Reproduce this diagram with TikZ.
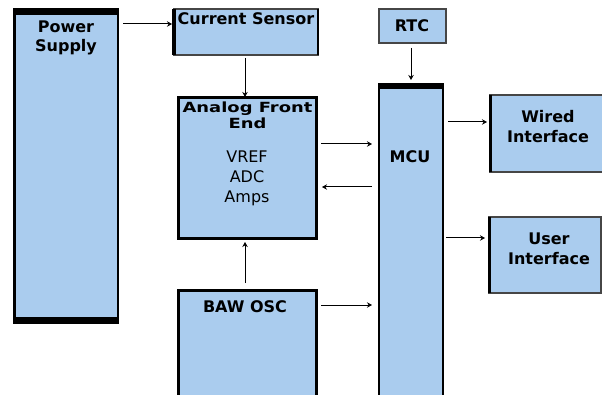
\documentclass[tikz,border=0pt]{standalone}
\usepackage{fontspec}
\setmainfont{DejaVu Sans}
\usetikzlibrary{calc,arrows.meta}
\definecolor{boxfill}{RGB}{170,204,238}
\definecolor{thinedge}{RGB}{70,70,70}
\tikzset{
  blk/.style={rectangle, fill=boxfill, draw=thinedge, line width=1.3pt, inner sep=0pt, outer sep=0pt},
  thickblk/.style={blk, draw=black, line width=3pt},
  lbl/.style={font=\fontsize{16}{20}\selectfont\bfseries, anchor=base, inner sep=0pt},
  body/.style={font=\fontsize{16}{20}\selectfont, anchor=base, inner sep=0pt},
  arr/.style={-{Stealth[length=5pt,width=5.5pt]}, line width=1pt, black},
  side/.style={black, line width=3pt}
}
\begin{document}
\begin{tikzpicture}[x=1pt,y=-1pt]
\useasboundingbox (0,0) rectangle (602,395);
\clip (0,0) rectangle (602,395);
\fill[white] (0,0) rectangle (602,395);

% boxes
\node[blk, draw=black, line width=2pt, minimum width=104pt, minimum height=314pt] (ps) at (66,166) {};
\node[blk, minimum width=144pt, minimum height=46pt] (cs) at (246,32) {};
\node[thickblk, minimum width=138pt, minimum height=141pt] (afe) at (247,168.5) {};
\node[blk, draw=black, line width=2pt, minimum width=64pt, minimum height=316pt] (mcu) at (411,242) {};
\node[blk, minimum width=67pt, minimum height=34pt] (rtc) at (412.5,26) {};
\node[blk, minimum width=113pt, minimum height=77pt] (wi) at (546.5,133.5) {};
\node[blk, minimum width=112pt, minimum height=76pt] (ui) at (545,255) {};
\node[thickblk, minimum width=138pt, minimum height=110pt] (baw) at (247,345) {};

% heavy sides
\fill[black] ($(ps.north west)+(-1,-1)$) rectangle ($(ps.north east)+(1,6)$);
\fill[black] ($(ps.south west)+(-1,-6)$) rectangle ($(ps.south east)+(1,1)$);
\draw[side] (ps.north west) -- (ps.south west);
\draw[side, line width=3.5pt] (cs.north west) -- (cs.south west);
\draw[side, line width=2.5pt] (cs.north east) -- (cs.south east);
\fill[black] ($(mcu.north west)+(-1,-1)$) rectangle ($(mcu.north east)+(1,5)$);
\draw[side] (wi.north west) -- (wi.south west);
\draw[side] (ui.north west) -- (ui.south west);

% labels
\node[lbl] at (66,33) {Power};
\node[lbl] at (66,52) {Supply};
\node[lbl] at (246,25) {Current Sensor};
\node[lbl, font=\fontsize{14}{16}\selectfont\bfseries] at (247.5,112.7) {\scalebox{1.28}[1]{Analog Front}};
\node[lbl, font=\fontsize{14}{16}\selectfont\bfseries] at (247.5,129) {\scalebox{1.28}[1]{End}};
\node[body] at (247,163) {VREF};
\node[body] at (247,183) {ADC};
\node[body] at (247,203) {Amps};
\node[lbl] at (412,32) {RTC};
\node[lbl] at (410,163) {MCU};
\node[lbl] at (548,123) {Wired};
\node[lbl] at (548,142.7) {Interface};
\node[lbl] at (549,245) {User};
\node[lbl] at (549,265) {Interface};
\node[lbl] at (245,312.5) {BAW OSC};

% connectors
\draw[arr] ($(ps.north east)+(5,15)$) -- ($(cs.north west)+(-2,15)$);
\draw[arr] ($(cs.south)+(-1,3)$) -- ($(afe.north)+(-2,-1)$);
\draw[arr] ($(afe.east)+(5,-24.5)$) -- ($(mcu.west)+(-7,-98)$);
\draw[arr] ($(mcu.west)+(-7,-55)$) -- ($(afe.east)+(6,18.5)$);
\draw[arr] ($(rtc.south)+(-1.5,5)$) -- ($(mcu.north)+(0,-4)$);
\draw[arr] ($(mcu.east)+(5,-120)$) -- ($(wi.west)+(-3,-11.5)$);
\draw[arr] ($(mcu.east)+(3,-4)$) -- ($(ui.west)+(-4,-17)$);
\draw[arr] ($(baw.north)+(-2,-7)$) -- ($(afe.south)+(-2,3)$);
\draw[arr] ($(baw.east)+(5,-40)$) -- ($(mcu.west)+(-7,63)$);
\end{tikzpicture}
\end{document}
